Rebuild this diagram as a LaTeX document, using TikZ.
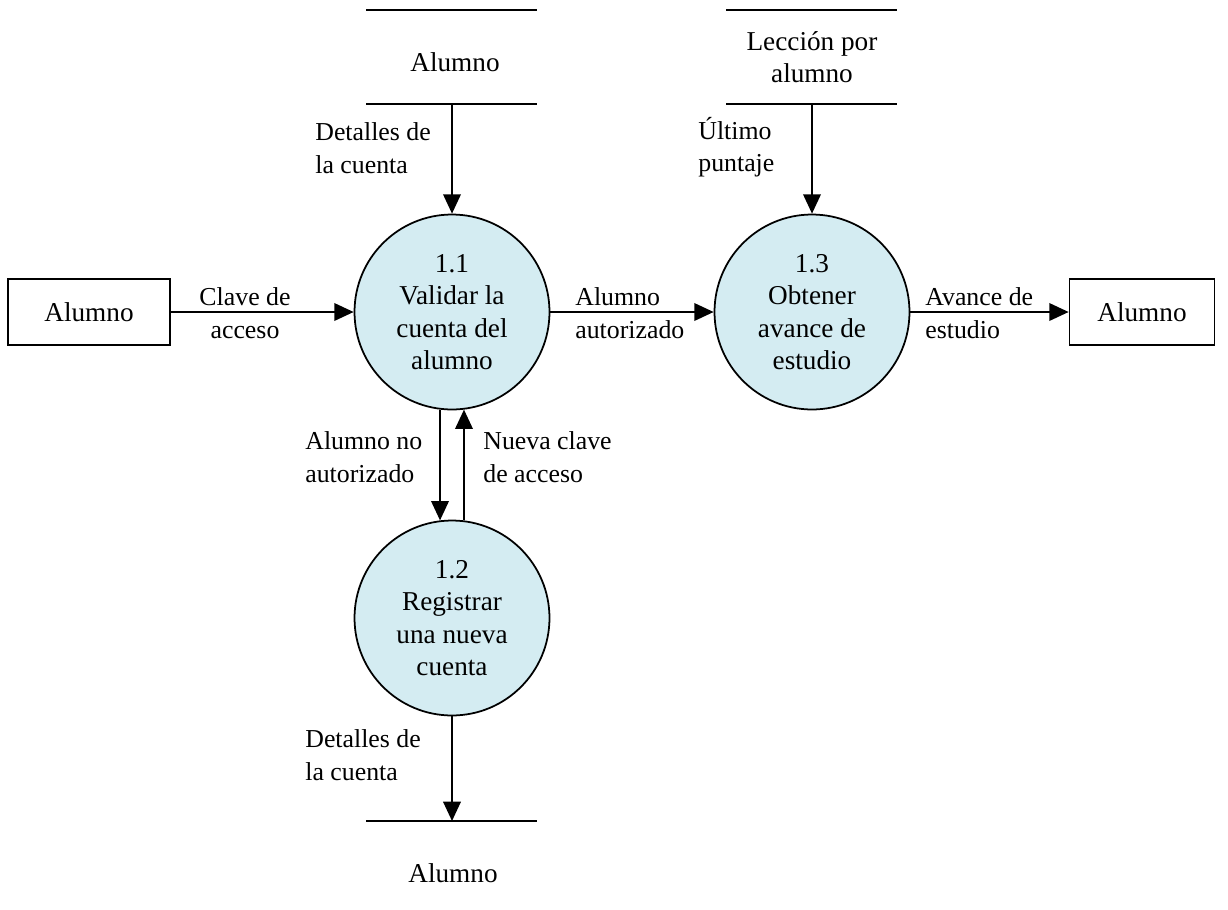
\documentclass[tikz,border=0pt]{standalone}
\usepackage{fontspec}
\setmainfont{Liberation Serif}
\usetikzlibrary{arrows.meta}

\definecolor{procfill}{RGB}{212,236,242}

\tikzset{
  proc/.style={circle, draw, line width=1pt, fill=procfill, minimum size=3.9cm,
               inner sep=0pt, align=center, font=\fontsize{15.5}{18.5}\selectfont},
  extbox/.style={rectangle, draw, line width=1pt, align=center,
                 font=\fontsize{15.5}{18}\selectfont},
  storetext/.style={align=center, font=\fontsize{15.5}{18}\selectfont},
  storeline/.style={line width=1pt},
  flow/.style={line width=1pt, -{Triangle[length=11pt,width=10pt]}},
  lbl/.style={align=left, anchor=west, inner sep=0pt, font=\fontsize{14.7}{18.5}\selectfont},
}

\begin{document}
\begin{tikzpicture}[x=0.02cm, y=-0.02cm]
  \useasboundingbox (0,0) rectangle (1228,910);

  % processes
  \node[proc] (p11) at (452,312) {1.1\\Validar la\\cuenta del\\alumno};
  \node[proc] (p13) at (812,312) {1.3\\Obtener\\avance de\\estudio};
  \node[proc] (p12) at (452,618) {1.2\\Registrar\\una nueva\\cuenta};

  % external entities
  \node[extbox, minimum width=3.24cm, minimum height=1.32cm] (e1) at (89,312) {Alumno};
  \node[extbox, minimum width=2.9cm, minimum height=1.32cm] (e2) at (1142,312) {Alumno};

  % data stores
  \coordinate (s1a) at (366,10);  \coordinate (s1b) at (537,10);
  \coordinate (s1c) at (366,104); \coordinate (s1d) at (537,104);
  \coordinate (s1o) at (452,104);
  \node[storetext] (s1) at (455,62) {Alumno};
  \draw[storeline] (s1a) -- (s1b);
  \draw[storeline] (s1c) -- (s1d);

  \coordinate (s2a) at (726,10);  \coordinate (s2b) at (897,10);
  \coordinate (s2c) at (726,104); \coordinate (s2d) at (897,104);
  \coordinate (s2o) at (812,104);
  \node[storetext] (s2) at (812,57) {Lección por\\alumno};
  \draw[storeline] (s2a) -- (s2b);
  \draw[storeline] (s2c) -- (s2d);

  \coordinate (s3a) at (366,821); \coordinate (s3b) at (537,821);
  \coordinate (s3i) at (452,821);
  \node[storetext] (s3) at (453,873) {Alumno};
  \draw[storeline] (s3a) -- (s3b);

  % data flows
  \draw[flow] (e1) -- (p11);
  \draw[flow] (p11) -- (p13);
  \draw[flow] (p13) -- (e2);
  \draw[flow] (s1o) -- (p11);
  \draw[flow] (s2o) -- (p13);
  \draw[flow] (p11.263) -- (p12.97);
  \draw[flow] (p12.83) -- (p11.277);
  \draw[flow] (p12) -- (s3i);

  % flow labels
  \node[lbl, anchor=center, align=center] (l1) at (245,313) {Clave de\\acceso};
  \node[lbl] (l2) at (575,313) {Alumno\\autorizado};
  \node[lbl] (l3) at (925,313) {Avance de\\estudio};
  \node[lbl] (l4) at (315,148) {Detalles de\\la cuenta};
  \node[lbl] (l5) at (698,147) {Último\\puntaje};
  \node[lbl] (l6) at (305,457) {Alumno no\\autorizado};
  \node[lbl] (l7) at (483,457) {Nueva clave\\de acceso};
  \node[lbl] (l8) at (305,755) {Detalles de\\la cuenta};
\end{tikzpicture}
\end{document}
